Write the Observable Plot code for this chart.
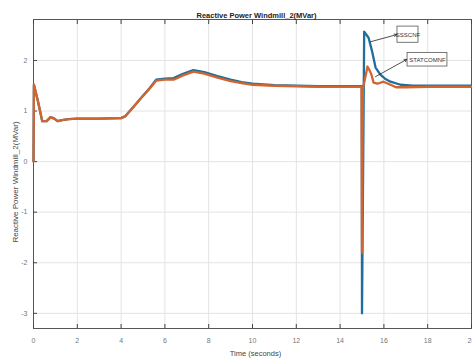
<!DOCTYPE html>
<html><head><meta charset="utf-8">
<script src="https://cdn.jsdelivr.net/npm/d3@7"></script>
<script src="https://cdn.jsdelivr.net/npm/@observablehq/plot@0.6"></script>
<style>body{margin:0;background:#fff} svg{display:block}</style>
</head><body><div id="chart"></div>
<script>
const title = "Reactive Power Windmill_2(MVar)";
const xLabel = "Time (seconds)";
const yLabel = "Reactive Power Windmill_2(MVar)";
const xTicks = [0, 2, 4, 6, 8, 10, 12, 14, 16, 18, 20];
const yTicks = [-3, -2, -1, 0, 1, 2];

const sssTime  = [0, 0.02, 0.2, 0.4, 0.6, 0.78, 0.95, 1.1, 1.3, 1.6, 2, 3, 4, 4.2, 4.6, 5, 5.3, 5.6, 6.0, 6.4, 6.8, 7.3, 7.8, 8.4, 9, 9.5, 10, 11, 12, 13, 14, 14.99, 15.0, 15.1, 15.3, 15.45, 15.62, 15.84, 16.05, 16.3, 16.76, 17.3, 18, 20];
const sssValue = [0, 1.52, 1.2, 0.8, 0.8, 0.88, 0.85, 0.8, 0.82, 0.84, 0.85, 0.85, 0.86, 0.9, 1.1, 1.3, 1.45, 1.62, 1.64, 1.65, 1.73, 1.81, 1.77, 1.69, 1.62, 1.57, 1.54, 1.51, 1.5, 1.49, 1.49, 1.49, -3.0, 2.57, 2.45, 2.2, 1.86, 1.72, 1.64, 1.58, 1.52, 1.5, 1.5, 1.5];

const statTime  = [0, 0.02, 0.2, 0.4, 0.6, 0.78, 0.95, 1.1, 1.3, 1.6, 2, 3, 4, 4.2, 4.6, 5, 5.3, 5.6, 6.0, 6.4, 6.8, 7.3, 7.8, 8.4, 9, 9.5, 10, 11, 12, 13, 14, 14.98, 15.0, 15.04, 15.12, 15.25, 15.35, 15.43, 15.53, 15.7, 15.98, 16.3, 16.55, 17, 18, 20];
const statValue = [0, 1.52, 1.2, 0.8, 0.8, 0.88, 0.85, 0.8, 0.82, 0.84, 0.85, 0.85, 0.86, 0.9, 1.1, 1.3, 1.44, 1.6, 1.62, 1.62, 1.7, 1.78, 1.74, 1.66, 1.59, 1.55, 1.52, 1.5, 1.49, 1.48, 1.48, 1.48, -1.8, 1.45, 1.6, 1.88, 1.8, 1.72, 1.56, 1.54, 1.58, 1.52, 1.47, 1.47, 1.48, 1.48];

const seriesNames = ["SSSCNF", "STATCOMNF"];
const seriesColors = ["#1f6e9e", "#d2642e"];
const boxX1 = [16.62, 17.08], boxX2 = [17.58, 18.9];
const boxY1 = [2.35, 1.88], boxY2 = [2.67, 2.15];
const arrowFromX = [15.39, 15.62], arrowFromY = [2.37, 1.68];
const arrowToX = [16.58, 17.04], arrowToY = [2.51, 2.02];

const sss = sssTime.map((t, i) => ({t, v: sssValue[i]}));
const stat = statTime.map((t, i) => ({t, v: statValue[i]}));
const notes = seriesNames.map((name, i) => ({name, x1: boxX1[i], x2: boxX2[i], y1: boxY1[i], y2: boxY2[i],
  ax1: arrowFromX[i], ay1: arrowFromY[i], ax2: arrowToX[i], ay2: arrowToY[i]}));

const chart = Plot.plot({
  width: 472, height: 362,
  marginLeft: 33, marginRight: 1, marginTop: 19, marginBottom: 34,
  style: {fontFamily: "Liberation Sans, Arial, sans-serif", fontSize: "7px", background: "#fff"},
  x: {domain: [0, 20]},
  y: {domain: [-3.3, 2.81]},
  marks: [
    Plot.gridX(xTicks, {stroke: "#e3e3e3", strokeOpacity: 1}),
    Plot.gridY(yTicks, {stroke: "#e3e3e3", strokeOpacity: 1}),
    Plot.frame({stroke: "#555", strokeWidth: 1}),
    Plot.axisX(xTicks, {anchor: "bottom", tickSize: -4, tickPadding: 14, tickFormat: d => String(d), label: null, fill: "#777", stroke: "#444"}),
    Plot.axisX(xTicks, {anchor: "top", tickSize: -4, tickFormat: () => "", label: null, stroke: "#444"}),
    Plot.axisY(yTicks, {anchor: "left", tickSize: -4, tickPadding: 10, tickFormat: d => String(d), label: null, fill: "#777", stroke: "#444"}),
    Plot.line(sss, {x: "t", y: "v", stroke: seriesColors[0], strokeWidth: 2.3}),
    Plot.line(stat, {x: "t", y: "v", stroke: seriesColors[1], strokeWidth: 2.3}),
    Plot.rect(notes, {x1: "x1", x2: "x2", y1: "y1", y2: "y2", fill: "#fff", stroke: "#555", strokeWidth: 0.8}),
    Plot.text(notes, {x: d => (d.x1 + d.x2) / 2, y: d => (d.y1 + d.y2) / 2, text: "name", fontSize: 6, fill: "#333"}),
    Plot.arrow(notes, {x1: "ax1", y1: "ay1", x2: "ax2", y2: "ay2", stroke: "#222", strokeWidth: 0.8, headLength: 5, bend: 0}),
    Plot.text([title], {frameAnchor: "top", dy: -7, dx: 4, text: d => d, fontSize: 7.5, fontWeight: "bold", fill: "#222", fontFamily: "Liberation Sans Narrow, Liberation Sans, sans-serif"}),
    Plot.text([xLabel], {frameAnchor: "bottom", dy: 27, dx: 3, text: d => d, fontSize: 7.5, fill: "#444"}),
    Plot.text([yLabel], {frameAnchor: "left", textAnchor: "middle", dx: -18, dy: 8, rotate: -90, text: d => d, fontSize: 8, fill: "#444"})
  ]
});
document.getElementById("chart").append(chart);
</script>
</body></html>
